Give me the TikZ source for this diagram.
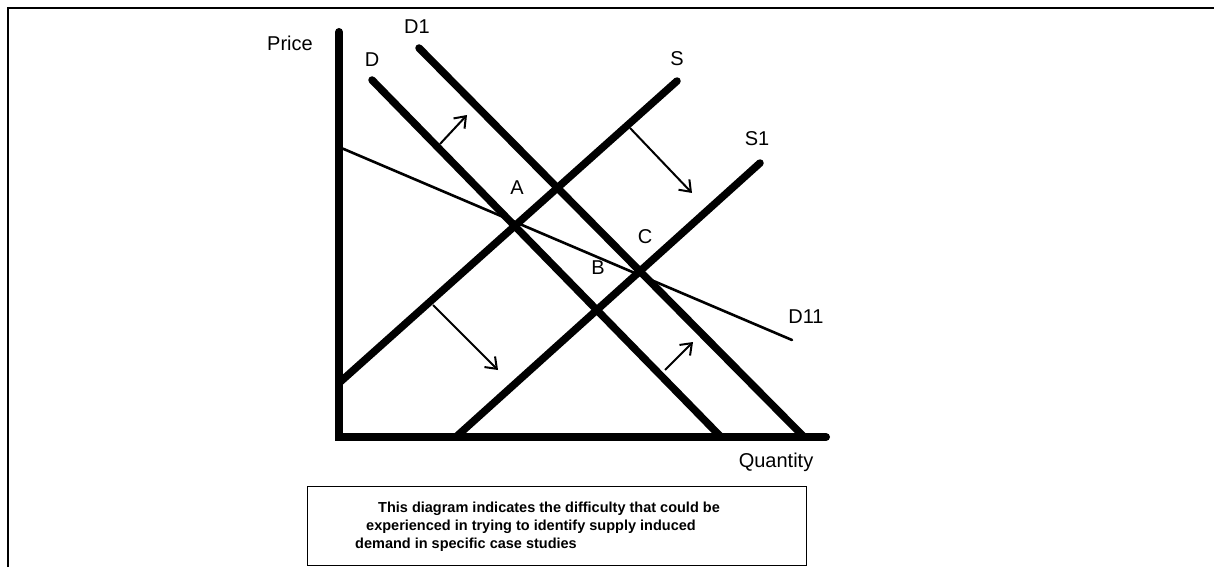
\documentclass[tikz,border=0pt]{standalone}
\usepackage{fontspec}
\setmainfont{Liberation Sans}
\usetikzlibrary{arrows.meta}
\begin{document}
\begin{tikzpicture}[x=1pt,y=-1pt,
  frame/.style={line width=1.8pt},
  axisline/.style={line width=8pt,line cap=round},
  curve/.style={line width=7.5pt,line cap=round},
  thincurve/.style={line width=2.6pt,line cap=round},
  shiftarrow/.style={line width=2pt,-{Straight Barb[length=10pt,width=15pt,line width=2pt]}},
  lbl/.style={inner sep=0pt,font=\fontsize{20}{23}\selectfont},
  note/.style={inner sep=0pt,anchor=west,font=\fontsize{14.5}{17}\selectfont\bfseries},
  notebox/.style={draw,line width=1pt,inner sep=0pt}
]
\useasboundingbox (0,0) rectangle (1214,567);
% outer frame (top and left only)
\draw[frame] (8,567) -- (8,8) -- (1214,8);
% axes
\coordinate (ytop) at (339,32);
\coordinate (origin) at (339,437);
\coordinate (xend) at (826,437);
\draw[axisline] (ytop) -- (origin) -- (xend);
% curves
\coordinate (Dt) at (372,80);   \coordinate (Db) at (720,436);
\coordinate (D1t) at (419,48);  \coordinate (D1b) at (803,436);
\coordinate (Sb) at (339,383);  \coordinate (St) at (677,81);
\coordinate (S1b) at (457,436); \coordinate (S1t) at (760,163);
\coordinate (D11l) at (339,147); \coordinate (D11r) at (792,340);
\draw[curve] (Dt) -- (Db);
\draw[curve] (D1t) -- (D1b);
\draw[curve] (Sb) -- (St);
\draw[curve] (S1b) -- (S1t);
\draw[thincurve] (D11l) -- (D11r);
% shift arrows
\coordinate (a1s) at (440,144); \coordinate (a1e) at (467,115);
\coordinate (a2s) at (630,128); \coordinate (a2e) at (692,193);
\coordinate (a3s) at (433,305); \coordinate (a3e) at (498,370);
\coordinate (a4s) at (665,370); \coordinate (a4e) at (693,342);
\draw[shiftarrow] (a1s) -- (a1e);
\draw[shiftarrow] (a2s) -- (a2e);
\draw[shiftarrow] (a3s) -- (a3e);
\draw[shiftarrow] (a4s) -- (a4e);
% labels
\node[lbl] (price) at (290,43) {Price};
\node[lbl] (lD) at (372,60) {D};
\node[lbl] (lD1) at (417,27) {D1};
\node[lbl] (lS) at (677,59) {S};
\node[lbl] (lS1) at (757,139) {S1};
\node[lbl] (lA) at (517,188) {A};
\node[lbl] (lB) at (598,268) {B};
\node[lbl] (lC) at (645,237) {C};
\node[lbl] (lD11) at (806,317) {D11};
\node[lbl] (qty) at (776,462) {Quantity};
% note box
\node[notebox, minimum width=499pt, minimum height=79pt, anchor=north west] (box) at (307,486) {};
\node[note] (n1) at (378,509) {This diagram indicates the difficulty that could be};
\node[note] (n2) at (366,527) {experienced in trying to identify supply induced};
\node[note] (n3) at (355,545) {demand in specific case studies};
\end{tikzpicture}
\end{document}
